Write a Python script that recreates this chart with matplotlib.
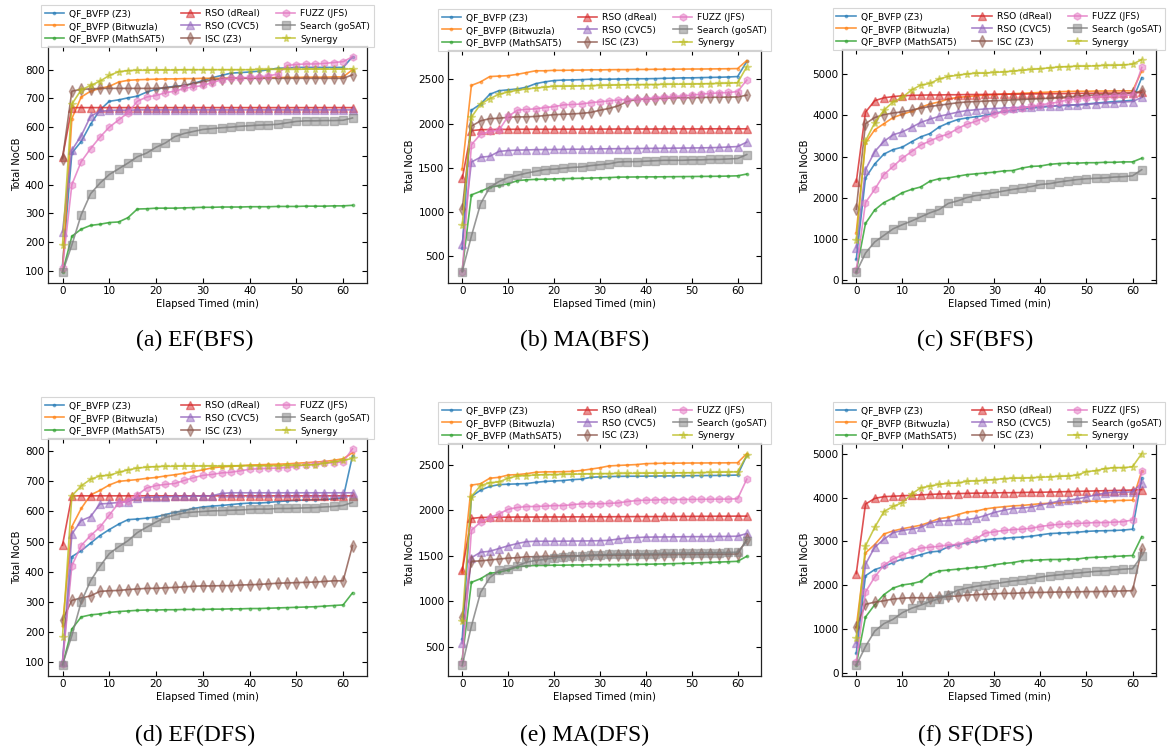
import matplotlib
matplotlib.use("Agg")
import matplotlib.pyplot as plt
from matplotlib.colors import to_rgba

minutes = [0, 2, 4, 6, 8, 10, 12, 14, 16, 18, 20, 22, 24, 26, 28, 30,
           32, 34, 36, 38, 40, 42, 44, 46, 48, 50, 52, 54, 56, 58, 60, 62]

series_names = ["QF_BVFP (Z3)", "QF_BVFP (Bitwuzla)", "QF_BVFP (MathSAT5)",
                "RSO (dReal)", "RSO (CVC5)", "ISC (Z3)",
                "FUZZ (JFS)", "Search (goSAT)", "Synergy"]

panel_titles = ["(a) EF(BFS)", "(b) MA(BFS)", "(c) SF(BFS)",
                "(d) EF(DFS)", "(e) MA(DFS)", "(f) SF(DFS)"]

# ---------------- (a) EF(BFS) ----------------
a_z3 = [120, 510, 550, 610, 660, 690, 695, 702,
        708, 722, 732, 738, 742, 745, 752, 762,
        772, 780, 788, 790, 792, 795, 800, 805,
        806, 808, 808, 808, 808, 808, 808, 845]
a_bitw = [100, 630, 705, 725, 735, 742, 757, 763,
          765, 766, 767, 768, 768, 769, 769, 770,
          770, 770, 771, 771, 772, 772, 772, 773,
          773, 773, 774, 774, 774, 775, 775, 800]
a_msat = [95, 220, 245, 258, 262, 268, 270, 285,
          315, 316, 318, 318, 318, 319, 320, 321,
          321, 322, 322, 322, 323, 323, 323, 324,
          324, 324, 325, 325, 325, 326, 326, 328]
a_dreal = [495, 668, 668, 668, 668, 668, 668, 668,
           668, 668, 668, 668, 668, 668, 668, 668,
           668, 668, 668, 668, 668, 668, 668, 668,
           668, 668, 668, 668, 668, 668, 668, 668]
a_cvc5 = [235, 520, 570, 638, 655, 658, 659, 659,
          660, 660, 660, 660, 660, 660, 660, 660,
          660, 660, 660, 660, 660, 660, 660, 660,
          660, 660, 660, 660, 660, 660, 660, 660]
a_isc = [490, 725, 732, 733, 735, 735, 735, 735,
         735, 735, 735, 737, 740, 745, 752, 758,
         764, 768, 770, 770, 770, 770, 770, 770,
         770, 770, 770, 770, 770, 770, 770, 782]
a_fuzz = [110, 400, 480, 525, 565, 600, 625, 650,
          690, 705, 710, 720, 725, 735, 740, 745,
          755, 765, 770, 772, 773, 775, 778, 785,
          815, 818, 820, 820, 822, 825, 828, 845]
a_gosat = [95, 190, 295, 368, 405, 435, 455, 475,
           497, 510, 530, 545, 567, 578, 585, 592,
           595, 598, 600, 603, 605, 607, 608, 610,
           615, 620, 622, 622, 623, 623, 624, 632]
a_syn = [190, 680, 730, 745, 760, 780, 793, 797,
         798, 798, 799, 799, 799, 800, 800, 800,
         800, 800, 800, 800, 800, 801, 801, 801,
         801, 801, 802, 802, 802, 802, 802, 803]

# ---------------- (b) MA(BFS) ----------------
b_z3 = [590, 2150, 2220, 2330, 2370, 2380, 2390, 2410,
        2450, 2470, 2485, 2490, 2492, 2495, 2500, 2500,
        2500, 2502, 2505, 2505, 2505, 2507, 2510, 2512,
        2515, 2515, 2518, 2520, 2522, 2525, 2530, 2700]
b_bitw = [1490, 2430, 2470, 2530, 2535, 2540, 2555, 2575,
          2595, 2595, 2600, 2600, 2602, 2603, 2605, 2605,
          2607, 2608, 2608, 2610, 2610, 2612, 2612, 2613,
          2614, 2615, 2615, 2616, 2617, 2618, 2620, 2710]
b_msat = [350, 1195, 1235, 1280, 1300, 1320, 1355, 1365,
          1370, 1372, 1375, 1378, 1380, 1382, 1385, 1387,
          1390, 1395, 1396, 1397, 1398, 1398, 1399, 1400,
          1401, 1402, 1403, 1404, 1405, 1407, 1410, 1430]
b_dreal = [1380, 1920, 1930, 1932, 1933, 1934, 1935, 1935,
           1935, 1935, 1935, 1936, 1936, 1936, 1937, 1937,
           1937, 1938, 1938, 1938, 1938, 1938, 1939, 1939,
           1939, 1939, 1939, 1940, 1940, 1940, 1940, 1940]
b_cvc5 = [640, 1565, 1620, 1630, 1685, 1695, 1700, 1702,
          1705, 1706, 1707, 1708, 1710, 1710, 1712, 1714,
          1715, 1716, 1717, 1718, 1719, 1720, 1721, 1722,
          1723, 1724, 1725, 1727, 1730, 1735, 1740, 1790]
b_isc = [1030, 1970, 2030, 2055, 2060, 2070, 2075, 2075,
         2080, 2090, 2100, 2105, 2108, 2115, 2125, 2150,
         2170, 2200, 2250, 2270, 2275, 2280, 2285, 2290,
         2290, 2292, 2294, 2296, 2297, 2298, 2300, 2320]
b_fuzz = [320, 1760, 1880, 1910, 1925, 2080, 2150, 2160,
          2165, 2180, 2190, 2210, 2215, 2220, 2235, 2245,
          2255, 2265, 2270, 2275, 2280, 2290, 2300, 2305,
          2310, 2320, 2330, 2340, 2345, 2350, 2360, 2490]
b_gosat = [330, 730, 1095, 1280, 1345, 1390, 1415, 1440,
           1460, 1480, 1485, 1495, 1505, 1510, 1525, 1535,
           1545, 1565, 1570, 1570, 1575, 1580, 1585, 1585,
           1585, 1590, 1590, 1595, 1595, 1600, 1605, 1650]
b_syn = [850, 2070, 2220, 2280, 2330, 2355, 2375, 2390,
         2400, 2410, 2420, 2420, 2422, 2425, 2428, 2430,
         2432, 2435, 2437, 2438, 2440, 2440, 2442, 2443,
         2444, 2445, 2447, 2450, 2452, 2455, 2460, 2640]

# ---------------- (c) SF(BFS) ----------------
c_z3 = [500, 2480, 2820, 3060, 3170, 3230, 3360, 3480,
        3560, 3720, 3820, 3900, 3940, 3970, 4000, 4050,
        4100, 4130, 4160, 4180, 4200, 4220, 4240, 4250,
        4260, 4280, 4300, 4320, 4340, 4350, 4370, 4920]
c_bitw = [1150, 3330, 3650, 3800, 3950, 4030, 4100, 4200,
          4280, 4330, 4400, 4440, 4460, 4480, 4500, 4510,
          4520, 4530, 4540, 4550, 4560, 4570, 4580, 4585,
          4590, 4590, 4595, 4595, 4598, 4600, 4600, 5080]
c_msat = [200, 1370, 1700, 1880, 1990, 2120, 2200, 2260,
          2400, 2460, 2480, 2520, 2560, 2580, 2600, 2620,
          2650, 2660, 2720, 2760, 2770, 2810, 2830, 2840,
          2840, 2850, 2850, 2860, 2860, 2870, 2870, 2960]
c_dreal = [2380, 4080, 4360, 4430, 4460, 4480, 4490, 4495,
           4500, 4500, 4505, 4505, 4510, 4510, 4512, 4515,
           4518, 4520, 4522, 4525, 4528, 4530, 4532, 4535,
           4538, 4540, 4542, 4545, 4545, 4548, 4550, 4560]
c_cvc5 = [780, 2680, 3120, 3370, 3530, 3600, 3710, 3830,
          3910, 3980, 4030, 4080, 4120, 4140, 4160, 4170,
          4180, 4190, 4200, 4210, 4220, 4230, 4240, 4250,
          4260, 4270, 4290, 4300, 4310, 4330, 4340, 4440]
c_isc = [1720, 3800, 3950, 4020, 4060, 4090, 4130, 4180,
         4220, 4250, 4280, 4310, 4330, 4340, 4350, 4360,
         4370, 4380, 4390, 4400, 4410, 4420, 4440, 4450,
         4470, 4490, 4500, 4510, 4520, 4530, 4540, 4600]
c_fuzz = [230, 1880, 2200, 2560, 2760, 2960, 3120, 3280,
          3380, 3480, 3550, 3680, 3790, 3860, 3950, 4030,
          4100, 4150, 4180, 4220, 4260, 4290, 4330, 4380,
          4400, 4430, 4450, 4460, 4480, 4490, 4500, 5170]
c_gosat = [180, 650, 920, 1080, 1240, 1340, 1430, 1530,
           1630, 1710, 1860, 1920, 2000, 2050, 2080, 2120,
           2160, 2200, 2230, 2270, 2320, 2340, 2380, 2410,
           2440, 2460, 2470, 2480, 2500, 2510, 2530, 2680]
c_syn = [970, 3380, 3820, 4130, 4330, 4440, 4620, 4740,
         4780, 4890, 4950, 4980, 5010, 5030, 5030, 5050,
         5060, 5080, 5100, 5120, 5140, 5160, 5180, 5190,
         5200, 5200, 5210, 5220, 5220, 5230, 5250, 5360]

# ---------------- (d) EF(DFS) ----------------
d_z3 = [100, 450, 470, 495, 520, 540, 558, 573,
        575, 578, 582, 590, 597, 603, 610, 615,
        618, 620, 623, 626, 628, 628, 630, 633,
        635, 637, 638, 639, 640, 642, 645, 785]
d_bitw = [220, 550, 610, 655, 670, 688, 700, 703,
          706, 710, 713, 718, 722, 727, 733, 738,
          745, 748, 750, 752, 754, 755, 756, 757,
          758, 760, 762, 764, 766, 770, 775, 795]
d_msat = [90, 210, 250, 257, 260, 265, 268, 270,
          272, 273, 273, 274, 274, 275, 275, 275,
          276, 276, 277, 277, 278, 278, 279, 280,
          281, 282, 283, 284, 286, 288, 290, 330]
d_dreal = [488, 652, 652, 652, 652, 652, 652, 652,
           652, 652, 652, 652, 652, 652, 652, 652,
           652, 652, 652, 652, 652, 652, 652, 652,
           652, 652, 652, 652, 652, 652, 652, 652]
d_cvc5 = [100, 525, 570, 583, 625, 627, 630, 633,
          645, 647, 648, 649, 650, 650, 651, 651,
          652, 660, 662, 662, 662, 662, 662, 662,
          662, 662, 662, 662, 662, 662, 662, 662]
d_isc = [240, 305, 313, 320, 335, 337, 338, 341,
         343, 345, 345, 347, 348, 350, 352, 353,
         353, 354, 354, 356, 357, 358, 360, 362,
         363, 364, 365, 366, 368, 370, 370, 487]
d_fuzz = [95, 420, 487, 520, 548, 588, 628, 635,
          655, 678, 686, 690, 693, 703, 712, 720,
          723, 728, 730, 735, 740, 742, 743, 744,
          746, 750, 755, 758, 760, 762, 765, 808]
d_gosat = [92, 188, 300, 370, 418, 460, 483, 503,
           530, 548, 565, 580, 588, 595, 598, 600,
           602, 603, 604, 605, 607, 608, 608, 610,
           610, 611, 612, 613, 615, 617, 620, 630]
d_syn = [185, 652, 685, 707, 718, 720, 730, 738,
         744, 747, 749, 750, 750, 751, 751, 751,
         751, 751, 751, 752, 752, 752, 752, 752,
         753, 753, 754, 755, 760, 765, 770, 776]

# ---------------- (e) MA(DFS) ----------------
e_z3 = [590, 2150, 2220, 2260, 2280, 2285, 2288, 2292,
        2305, 2315, 2320, 2325, 2335, 2340, 2360, 2365,
        2368, 2370, 2372, 2372, 2373, 2374, 2375, 2376,
        2377, 2378, 2379, 2380, 2381, 2382, 2385, 2600]
e_bitw = [1320, 2275, 2290, 2350, 2360, 2385, 2390, 2400,
          2415, 2420, 2420, 2422, 2425, 2435, 2450, 2465,
          2485, 2490, 2495, 2500, 2510, 2512, 2515, 2515,
          2516, 2517, 2517, 2518, 2518, 2519, 2520, 2620]
e_msat = [370, 1210, 1250, 1310, 1320, 1345, 1380, 1390,
          1395, 1395, 1398, 1398, 1400, 1400, 1402, 1403,
          1404, 1405, 1406, 1407, 1408, 1410, 1412, 1415,
          1418, 1420, 1425, 1428, 1432, 1436, 1440, 1495]
e_dreal = [1340, 1910, 1920, 1922, 1923, 1924, 1925, 1925,
           1925, 1926, 1926, 1926, 1927, 1927, 1928, 1928,
           1928, 1929, 1929, 1930, 1930, 1930, 1931, 1931,
           1932, 1932, 1933, 1933, 1934, 1934, 1935, 1935]
e_cvc5 = [540, 1480, 1540, 1550, 1580, 1610, 1635, 1655,
          1660, 1660, 1660, 1661, 1662, 1663, 1664, 1666,
          1670, 1685, 1695, 1700, 1705, 1706, 1707, 1708,
          1709, 1710, 1710, 1711, 1712, 1713, 1715, 1745]
e_isc = [830, 1440, 1445, 1455, 1465, 1475, 1480, 1490,
         1490, 1495, 1495, 1500, 1500, 1502, 1505, 1506,
         1507, 1508, 1509, 1510, 1511, 1512, 1513, 1514,
         1515, 1516, 1517, 1518, 1518, 1519, 1520, 1680]
e_fuzz = [330, 1780, 1870, 1920, 1960, 2010, 2030, 2040,
          2040, 2045, 2050, 2050, 2060, 2070, 2070, 2070,
          2075, 2080, 2095, 2105, 2110, 2112, 2115, 2116,
          2117, 2118, 2119, 2120, 2121, 2122, 2125, 2340]
e_gosat = [300, 730, 1100, 1260, 1340, 1360, 1390, 1430,
           1450, 1460, 1480, 1490, 1495, 1500, 1505, 1510,
           1515, 1520, 1520, 1522, 1522, 1525, 1528, 1530,
           1530, 1532, 1533, 1535, 1535, 1537, 1540, 1660]
e_syn = [790, 2150, 2270, 2300, 2310, 2350, 2375, 2380,
         2385, 2390, 2390, 2392, 2394, 2396, 2398, 2400,
         2401, 2402, 2403, 2404, 2405, 2406, 2407, 2408,
         2409, 2410, 2412, 2414, 2416, 2418, 2420, 2600]

# ---------------- (f) SF(DFS) ----------------
f_z3 = [460, 2220, 2360, 2430, 2520, 2600, 2640, 2700,
        2760, 2780, 2880, 2930, 2970, 3000, 3040, 3060,
        3070, 3090, 3100, 3120, 3150, 3180, 3190, 3200,
        3210, 3230, 3240, 3245, 3250, 3260, 3280, 4450]
f_bitw = [1050, 2740, 2930, 3170, 3240, 3290, 3330, 3370,
          3440, 3520, 3550, 3610, 3670, 3690, 3740, 3770,
          3790, 3810, 3820, 3840, 3860, 3870, 3880, 3890,
          3900, 3910, 3920, 3920, 3930, 3935, 3940, 4600]
f_msat = [200, 1280, 1560, 1790, 1940, 2010, 2040, 2090,
          2250, 2330, 2350, 2370, 2390, 2410, 2430, 2470,
          2500, 2520, 2560, 2570, 2580, 2590, 2590, 2600,
          2600, 2630, 2640, 2650, 2660, 2670, 2680, 3110]
f_dreal = [2270, 3850, 3980, 4020, 4030, 4040, 4050, 4060,
           4070, 4080, 4085, 4090, 4095, 4100, 4100, 4105,
           4110, 4110, 4115, 4120, 4120, 4125, 4130, 4135,
           4140, 4145, 4150, 4155, 4160, 4165, 4170, 4180]
f_cvc5 = [680, 2480, 2870, 3050, 3200, 3250, 3280, 3320,
          3420, 3460, 3470, 3480, 3500, 3530, 3590, 3660,
          3710, 3750, 3760, 3780, 3830, 3870, 3920, 3940,
          3970, 4010, 4060, 4100, 4120, 4120, 4130, 4330]
f_isc = [1050, 1570, 1620, 1650, 1690, 1710, 1720, 1720,
         1720, 1730, 1750, 1760, 1780, 1790, 1800, 1810,
         1820, 1820, 1830, 1840, 1840, 1845, 1850, 1850,
         1855, 1860, 1860, 1865, 1870, 1875, 1880, 2820]
f_fuzz = [250, 1850, 2190, 2460, 2600, 2690, 2780, 2850,
          2870, 2890, 2920, 2930, 3000, 3060, 3190, 3220,
          3250, 3270, 3280, 3300, 3340, 3370, 3390, 3400,
          3410, 3420, 3430, 3430, 3440, 3450, 3490, 4600]
f_gosat = [180, 610, 960, 1130, 1230, 1380, 1480, 1550,
           1630, 1700, 1790, 1890, 1940, 1980, 2010, 2040,
           2070, 2100, 2120, 2150, 2190, 2220, 2240, 2260,
           2280, 2300, 2320, 2330, 2350, 2370, 2380, 2670]
f_syn = [810, 2900, 3320, 3680, 3800, 3880, 4080, 4220,
         4260, 4300, 4320, 4330, 4370, 4380, 4390, 4410,
         4430, 4440, 4440, 4450, 4460, 4470, 4480, 4490,
         4510, 4590, 4610, 4660, 4680, 4680, 4700, 5000]

panels = [
    [a_z3, a_bitw, a_msat, a_dreal, a_cvc5, a_isc, a_fuzz, a_gosat, a_syn],
    [b_z3, b_bitw, b_msat, b_dreal, b_cvc5, b_isc, b_fuzz, b_gosat, b_syn],
    [c_z3, c_bitw, c_msat, c_dreal, c_cvc5, c_isc, c_fuzz, c_gosat, c_syn],
    [d_z3, d_bitw, d_msat, d_dreal, d_cvc5, d_isc, d_fuzz, d_gosat, d_syn],
    [e_z3, e_bitw, e_msat, e_dreal, e_cvc5, e_isc, e_fuzz, e_gosat, e_syn],
    [f_z3, f_bitw, f_msat, f_dreal, f_cvc5, f_isc, f_fuzz, f_gosat, f_syn],
]

colors = ["#1f77b4", "#ff7f0e", "#2ca02c", "#d62728", "#9467bd",
          "#8c564b", "#e377c2", "#7f7f7f", "#bcbd22"]
markers = [".", ".", ".", "^", "^", "d", "h", "s", "*"]
msizes = [3.5, 3.5, 3.5, 5.3, 5.3, 5.8, 5.2, 5.2, 5.8]

W, H = 1169, 753
fig = plt.figure(figsize=(W / 100, H / 100), dpi=100)

# axes boxes in pixels: left, top, right, bottom
boxes = [(48, 46, 367, 283), (448, 50, 761, 283), (842, 49, 1156, 283),
         (48, 438, 367, 676), (448, 443, 761, 676), (842, 443, 1156, 676)]
caption_pos = [(195, 340), (585, 340), (975, 340),
               (195, 735), (585, 735), (975, 735)]

for k, (box, data) in enumerate(zip(boxes, panels)):
    l, t, r, b = box
    ax = fig.add_axes([l / W, 1 - b / H, (r - l) / W, (b - t) / H])
    for i, ys in enumerate(data):
        line_c = to_rgba(colors[i], 0.8)
        mark_c = to_rgba(colors[i], 0.5)
        ax.plot(minutes, ys, color=line_c, marker=markers[i],
                markersize=msizes[i], markerfacecolor=mark_c,
                markeredgecolor=mark_c, linewidth=1.2,
                label=series_names[i])
    ax.set_xticks([0, 10, 20, 30, 40, 50, 60])
    ax.tick_params(direction="in", top=True, right=True, labelsize=7.5,
                   length=3.5, width=0.8, pad=2.5)
    for s in ax.spines.values():
        s.set_linewidth(0.9)
        s.set_color("#222222")
    ax.set_xlabel("Elapsed Timed (min)", fontsize=7.2, labelpad=1.5)
    ax.set_ylabel("Total NoCB", fontsize=7.2, labelpad=2)
    leg = ax.legend(loc="lower center", bbox_to_anchor=(0.5, 0.995), ncol=3,
                    fontsize=6.6, frameon=True, borderaxespad=0.0,
                    handlelength=2.1, columnspacing=1.75, labelspacing=0.42,
                    borderpad=0.4, handletextpad=0.55, fancybox=False)
    leg.get_frame().set_edgecolor("#cccccc")
    leg.get_frame().set_linewidth(0.8)
    cx, cy = caption_pos[k]
    fig.text(cx / W, 1 - cy / H, panel_titles[k], ha="center", va="center",
             fontsize=17, family="Liberation Serif")

fig.savefig("out.png", dpi=100)
